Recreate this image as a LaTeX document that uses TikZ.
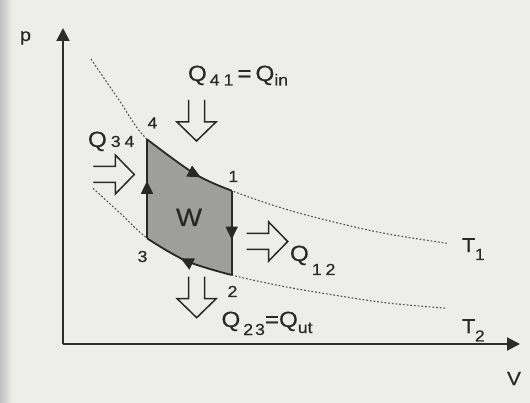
\documentclass[tikz,border=0pt]{standalone}
\usepackage{fontspec}
\setmainfont{Liberation Sans}
\newfontfamily\lf[FakeStretch=1.1,FakeBold=0.4]{Liberation Sans}
\usetikzlibrary{arrows.meta,decorations.markings}
\definecolor{bgc}{RGB}{237,237,234}
\definecolor{axisc}{RGB}{45,45,45}
\definecolor{linec}{RGB}{40,40,40}
\definecolor{fillc}{RGB}{158,158,156}
\definecolor{isoc}{RGB}{85,85,85}
\definecolor{txtc}{RGB}{40,40,40}
\newcommand{\qsub}[2]{\raisebox{-#1pt}{\fontsize{16}{16}\selectfont #2}}
\tikzset{
  axisline/.style={line width=1.9pt, draw=axisc, -{Triangle[length=13pt,width=13pt]}},
  edgeline/.style={line width=1.8pt, draw=linec},
  isoline/.style={draw=isoc, line width=1.1pt, dash pattern=on 1.8pt off 1.9pt},
  heatline/.style={line width=1.5pt, draw=linec, line join=miter},
  lbl/.style={inner sep=0pt, outer sep=0pt, text=txtc, font=\lf},
  dirmark/.style={postaction={decorate}, decoration={markings,
     mark=at position #1 with {\arrow{Triangle[length=13pt,width=12pt]}}}},
  heatarrow/.pic={\draw[heatline] (0,-8) -- (22,-8) -- (22,-19.5) -- (41,0)
     -- (22,19.5) -- (22,8) -- (0,8);}
}
\begin{document}
\begin{tikzpicture}[x=1pt,y=-1pt]
\useasboundingbox (0,0) rectangle (530,403);
\fill[bgc] (0,0) rectangle (530,403);
\shade[left color=black!25, right color=bgc] (0,0) rectangle (12,403);

% axes
\coordinate (o) at (63,344);
\coordinate (ytip) at (63,28);
\coordinate (xtip) at (520,344);
\draw[axisline] (o) -- (ytip);
\draw[axisline] (o) -- (xtip);

% isotherms
\draw[isoline] plot[smooth, tension=0.6] coordinates {(91,59) (119,100) (147,139.3) (195,174) (231.7,190.7) (285,209) (340,223.5) (388,234) (446.7,243.3)};
\draw[isoline] plot[smooth, tension=0.6] coordinates {(93,188.3) (120,213) (147.5,238.3) (186.5,261) (231.7,275) (285,286.7) (340,296) (388,303) (446.7,308.3)};

% cycle
\coordinate (v4) at (147,139.3);
\coordinate (m41) at (195,174);
\coordinate (v1) at (231.7,190.7);
\coordinate (v2) at (231.7,275);
\coordinate (m23) at (186.5,261);
\coordinate (v3) at (147,238.3);
\fill[fillc] plot[smooth, tension=0.6] coordinates {(v4) (m41) (v1)} -- (v2)
  -- plot[smooth, tension=0.6] coordinates {(v2) (m23) (v3)} -- cycle;
\draw[edgeline, dirmark=0.66] plot[smooth, tension=0.6] coordinates {(v4) (m41) (v1)};
\draw[edgeline, dirmark=0.58] (v1) -- (v2);
\draw[edgeline, dirmark=0.58] plot[smooth, tension=0.6] coordinates {(v2) (m23) (v3)};
\draw[edgeline, dirmark=0.58] (v3) -- (v4);

% heat arrows
\pic (h41) [rotate=-90] at (196.5,100) {heatarrow};
\pic (h23) [rotate=-90] at (196.7,276.7) {heatarrow};
\pic (h34) at (93.3,174.5) {heatarrow};
\pic (h12) at (246.7,241.5) {heatarrow};

% labels
\node[lbl, anchor=base west] (lp) at (20,41) {\fontsize{18}{18}\selectfont p};
\node[lbl, anchor=base west] (lv) at (507,385) {\fontsize{19}{19}\selectfont V};
\node[lbl, anchor=base] (n4) at (152.5,128.5) {\fontsize{16}{16}\selectfont 4};
\node[lbl, anchor=base] (n1) at (233.3,182) {\fontsize{16}{16}\selectfont 1};
\node[lbl, anchor=base] (n3) at (142.5,262) {\fontsize{16}{16}\selectfont 3};
\node[lbl, anchor=base] (n2) at (232.5,297) {\fontsize{16}{16}\selectfont 2};
\node[lbl, anchor=base] (w) at (189,226) {\fontsize{25}{25}\selectfont W};
\node[lbl, anchor=base west] (q41) at (188,81) {\fontsize{22}{22}\selectfont Q\hspace{3pt}\qsub{4.5}{4\hspace{4pt}1}\hspace{4pt}=\hspace{4pt}Q\qsub{4.5}{in}};
\node[lbl, anchor=base west] (q34) at (88,147) {\fontsize{22}{22}\selectfont Q\hspace{4pt}\qsub{0}{3\hspace{4pt}4}};
\node[lbl, anchor=base west] (q12) at (290,261) {\fontsize{22}{22}\selectfont Q\hspace{3pt}\qsub{14}{1\hspace{4pt}2}};
\node[lbl, anchor=base west] (q23) at (221.5,327) {\fontsize{22}{22}\selectfont Q\hspace{3pt}\qsub{8}{2\hspace{2pt}3}=Q\qsub{6}{ut}};
\node[lbl, anchor=base west] (t1) at (462,252) {\fontsize{20}{20}\selectfont T\hspace{-0.5pt}\qsub{8}{1}};
\node[lbl, anchor=base west] (t2) at (462,333) {\fontsize{20}{20}\selectfont T\hspace{-0.5pt}\qsub{8.5}{2}};
\end{tikzpicture}
\end{document}
